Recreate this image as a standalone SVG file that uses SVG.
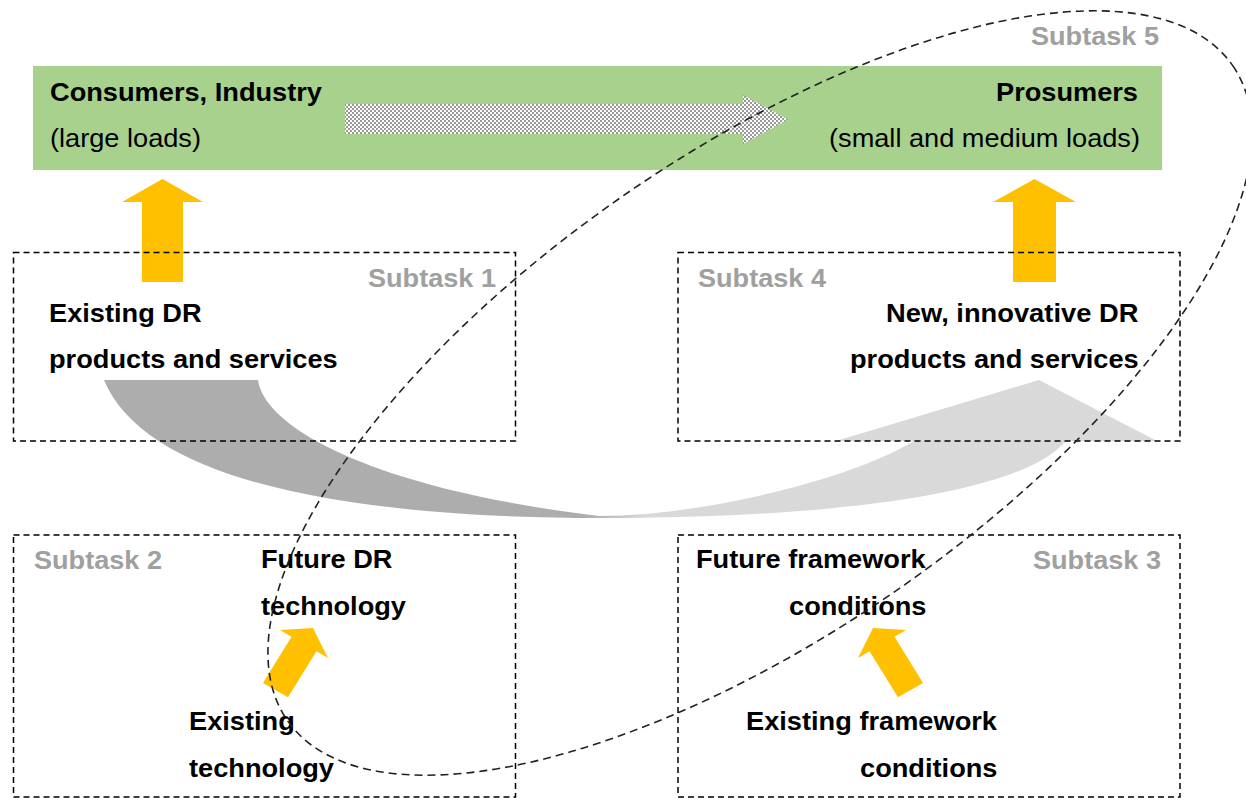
<svg xmlns="http://www.w3.org/2000/svg" width="1246" height="798" viewBox="0 0 1246 798">
<style>
text{font-family:"Liberation Sans",Arial,sans-serif;font-size:25px;fill:#000}
.b{font-weight:bold}
.g{font-weight:bold;fill:#A0A0A0}
.box{fill:none;stroke:#000;stroke-width:1.5;stroke-dasharray:6 4}
.yel{fill:#FFC000}
</style>
<defs>
<pattern id="dots" width="4" height="4" patternUnits="userSpaceOnUse">
<rect width="4" height="4" fill="#fff"/>
<circle cx="1" cy="1" r="0.75" fill="#000"/>
<circle cx="3" cy="3" r="0.75" fill="#000"/>
</pattern>
<linearGradient id="swg" gradientUnits="userSpaceOnUse" x1="585" y1="0" x2="645" y2="0">
<stop offset="0" stop-color="#ADADAD"/>
<stop offset="1" stop-color="#D9D9D9"/>
</linearGradient>
</defs>
<rect width="1246" height="798" fill="#fff"/>

<g id="customers">
<rect x="33" y="66" width="1129" height="104" fill="#A9D18E"/>
<text x="50" y="101" class="b" textLength="272" lengthAdjust="spacingAndGlyphs">Consumers, Industry</text>
<text x="50" y="147" textLength="151" lengthAdjust="spacingAndGlyphs">(large loads)</text>
<text x="996" y="101" class="b" textLength="142" lengthAdjust="spacingAndGlyphs">Prosumers</text>
<text x="829" y="147" textLength="311" lengthAdjust="spacingAndGlyphs">(small and medium loads)</text>
</g>

<g id="connectors">
<polygon points="345,104 743,104 743,95 788,119.5 743,144 743,134 345,134" fill="url(#dots)"/>
<polygon class="yel" points="142,282 142,202 122,202 162.5,179 203,202 183,202 183,282"/>
<polygon class="yel" points="1013,282 1013,202 993,202 1034.5,179 1076,202 1056,202 1056,282"/>
<polygon class="yel" points="263,683 291.5,636.7 280,630 313,628 328,658 316.5,651.3 288,697.3"/>
<polygon class="yel" points="923,683 894.5,636.7 906,630 873,628 858,658 869.5,651.3 898,697.3"/>
<path fill="url(#swg)" d="M104,380 L258,380 C265,430 380,490 600,516 C700,516 850,480 914,441 L836,441 L1039,380 L1157,441 L1066,441 C1020,495 830,518 600,518 C380,518 150,490 104,380 Z"/>
</g>

<g id="subtask1">
<rect class="box" x="13.5" y="252.5" width="502" height="188.5"/>
<text x="368" y="287" class="g" textLength="128" lengthAdjust="spacingAndGlyphs">Subtask 1</text>
<text x="49" y="322" class="b" textLength="152.6" lengthAdjust="spacingAndGlyphs">Existing DR</text>
<text x="49" y="368" class="b" textLength="288.7" lengthAdjust="spacingAndGlyphs">products and services</text>
</g>

<g id="subtask4">
<rect class="box" x="678" y="252.5" width="502" height="188.5"/>
<text x="698" y="287" class="g" textLength="128" lengthAdjust="spacingAndGlyphs">Subtask 4</text>
<text x="886" y="322" class="b" textLength="252.4" lengthAdjust="spacingAndGlyphs">New, innovative DR</text>
<text x="850" y="368" class="b" textLength="288.7" lengthAdjust="spacingAndGlyphs">products and services</text>
</g>

<g id="subtask2">
<rect class="box" x="13.5" y="535" width="502" height="262"/>
<text x="34" y="569" class="g" textLength="128" lengthAdjust="spacingAndGlyphs">Subtask 2</text>
<text x="261" y="568" class="b" textLength="131.5" lengthAdjust="spacingAndGlyphs">Future DR</text>
<text x="261" y="615" class="b" textLength="145" lengthAdjust="spacingAndGlyphs">technology</text>
<text x="189" y="730" class="b" textLength="105.8" lengthAdjust="spacingAndGlyphs">Existing</text>
<text x="189" y="777" class="b" textLength="145" lengthAdjust="spacingAndGlyphs">technology</text>
</g>

<g id="subtask3">
<rect class="box" x="678" y="535" width="502" height="262"/>
<text x="1033" y="569" class="g" textLength="128" lengthAdjust="spacingAndGlyphs">Subtask 3</text>
<text x="696" y="568" class="b" textLength="229.7" lengthAdjust="spacingAndGlyphs">Future framework</text>
<text x="789" y="615" class="b" textLength="137.5" lengthAdjust="spacingAndGlyphs">conditions</text>
<text x="746" y="730" class="b" textLength="251" lengthAdjust="spacingAndGlyphs">Existing framework</text>
<text x="860" y="777" class="b" textLength="137.5" lengthAdjust="spacingAndGlyphs">conditions</text>
</g>

<g id="subtask5">
<ellipse cx="760" cy="393" rx="575" ry="240" transform="rotate(-34.7 760 393)" fill="none" stroke="#222" stroke-width="1.6" stroke-dasharray="8 5"/>
<text x="1031" y="45" class="g" textLength="128" lengthAdjust="spacingAndGlyphs">Subtask 5</text>
</g>
</svg>
